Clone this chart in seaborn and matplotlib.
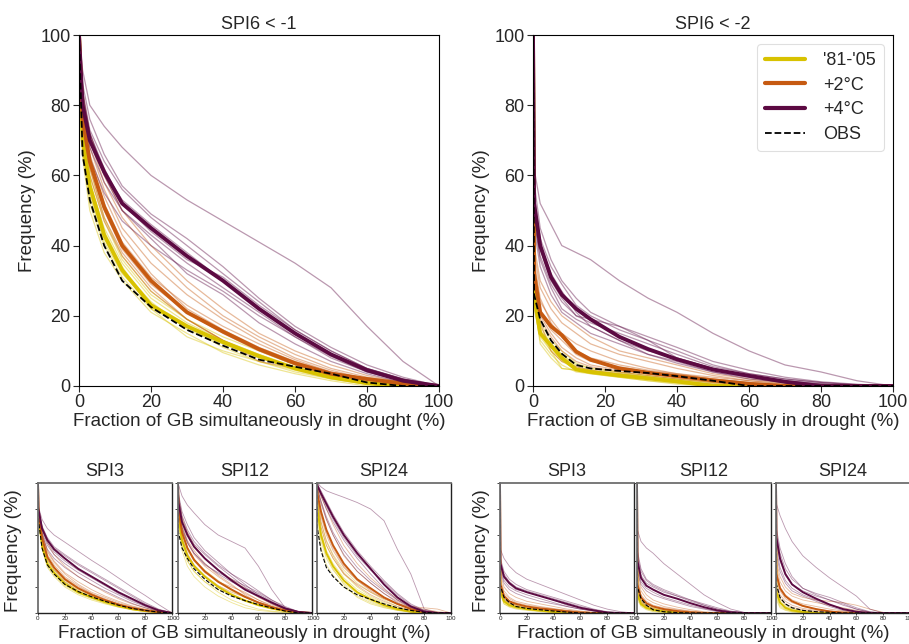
import matplotlib
matplotlib.use("Agg")
import matplotlib.pyplot as plt
from matplotlib.lines import Line2D
import pandas as pd
import seaborn as sns

sns.set_style("ticks")
plt.rcParams['font.family'] = ['Liberation Sans', 'DejaVu Sans']

SCENARIOS = ["'81-'05", "+2°C", "+4°C"]
OBS_LABEL = "OBS"
COLORS = {"'81-'05": "#d8c200", "+2°C": "#c65a11", "+4°C": "#5c0a42"}
TOP_TITLES = ["SPI6 < -1", "SPI6 < -2"]
SMALL_TITLES = ["SPI3", "SPI12", "SPI24"]
TICKS = [0, 20, 40, 60, 80, 100]
XLABEL = "Fraction of GB simultaneously in drought (%)"
YLABEL = "Frequency (%)"

# ---------------- SPI6 < -1 ----------------
X_A = [0, 1, 3, 7, 12, 20, 30, 40, 50, 60, 70, 80, 90, 100]
A_MEAN_BASE = [100, 70, 57, 43, 33, 23, 17, 12.5, 8.5, 5, 2.5, 0.8, 0, 0]
A_MEAN_2C = [100, 76, 64, 51, 40, 30, 21, 15.5, 10.5, 6.5, 3.5, 2, 0.7, 0]
A_MEAN_4C = [100, 80, 70, 61, 52, 45, 37, 30, 22, 15, 9, 4.5, 1.5, 0]
A_OBS = [100, 66, 53, 40, 30, 22.5, 16, 11.5, 7.5, 5.5, 3.5, 1, 0, 0]
A_MEM_BASE = [
    [100, 68, 52, 40, 31, 22, 17, 11, 7, 4, 2, 0.5, 0, 0],
    [100, 72, 58, 45, 35, 25, 18, 13, 9, 5, 2.5, 1, 0, 0],
    [100, 65, 50, 38, 30, 21, 15, 9.5, 6, 3.5, 1.5, 0, 0, 0],
    [100, 74, 60, 47, 36, 26, 19, 14, 10, 6, 3, 1.2, 0.3, 0],
    [100, 70, 55, 42, 33, 24, 16, 12, 8, 5, 2.5, 0.8, 0, 0],
    [100, 71, 57, 44, 34, 22, 14, 10, 7, 4.5, 2, 0.5, 0, 0],
    [100, 76, 62, 48, 37, 27, 19, 13, 9, 5.5, 3, 1.5, 0.5, 0],
    [100, 67, 54, 41, 32, 23.5, 17.5, 12.5, 8.5, 5, 2.5, 1, 0, 0],
]
A_MEM_2C = [
    [100, 78, 66, 54, 43, 32, 22, 16, 11, 7, 4, 2, 0.5, 0],
    [100, 74, 62, 48, 38, 28, 19, 13, 8.5, 5, 2.5, 1, 0, 0],
    [100, 82, 70, 58, 48, 38, 28, 20, 14, 9, 5, 2.5, 1, 0],
    [100, 76, 63, 50, 39, 29, 21, 15, 10, 6, 3, 1.5, 0.5, 0],
    [100, 80, 68, 56, 45, 35, 26, 19, 13, 8, 4.5, 2, 0.8, 0],
    [100, 73, 60, 47, 37, 27, 19, 13, 7, 5, 2.5, 1, 0.3, 0],
    [100, 84, 72, 60, 50, 40, 30, 22, 15, 10, 6, 3, 1, 0],
    [100, 77, 65, 52, 41, 31, 23, 17, 12, 7.5, 4, 2, 0.6, 0],
]
A_MEM_4C = [
    [100, 90, 80, 74, 68, 60, 53, 47, 41, 35, 28, 17, 7, 0],
    [100, 84, 73, 64, 56, 48, 40, 32, 24, 16, 10, 5, 2, 0],
    [100, 78, 68, 58, 50, 43, 35, 28, 21, 14, 8, 4, 1.5, 0],
    [100, 82, 72, 62, 52, 44, 36, 31, 23, 16, 10, 5, 2, 0],
    [100, 76, 65, 55, 47, 40, 33, 27, 20, 14, 8.5, 4, 1.5, 0],
    [100, 86, 76, 66, 57, 49, 42, 34, 25, 17, 11, 6, 2.5, 0],
    [100, 80, 70, 60, 50, 42, 32, 26, 18, 12, 7, 3.5, 1, 0],
    [100, 83, 72, 61, 53, 46, 38, 30, 22, 15, 9, 5, 2, 0],
]

# ---------------- SPI6 < -2 ----------------
X_B = [0, 0.3, 2, 5, 8, 12, 16, 24, 32, 40, 50, 60, 70, 80, 90, 100]
B_MEAN_BASE = [100, 26, 15, 11.5, 8, 4.7, 4, 3, 2.2, 1.3, 0, 0, 0, 0, 0, 0]
B_MEAN_2C = [100, 32, 21, 17, 14.5, 9.8, 7.5, 5, 3.8, 2.8, 1.6, 0.6, 0, 0, 0, 0]
B_MEAN_4C = [100, 52, 40, 31, 26, 22, 19, 14, 10.5, 7.6, 4.7, 2.9, 1.2, 0, 0, 0]
B_OBS = [100, 26, 19, 13, 9.2, 6, 5, 4.3, 3.7, 2.8, 1.5, 0, 0, 0, 0, 0]
B_MEM_BASE = [
    [100, 24, 12, 8, 5, 4.5, 4, 3, 2, 1, 0, 0, 0, 0, 0, 0],
    [100, 28, 17, 12, 9, 6, 5, 4, 3, 2, 1, 0, 0, 0, 0, 0],
    [100, 22, 14, 10, 5, 4.5, 3.5, 2.5, 1.5, 0.5, 0, 0, 0, 0, 0, 0],
    [100, 27, 16, 12, 9, 5.5, 4.5, 3.5, 2.5, 1.7, 0.5, 0, 0, 0, 0, 0],
    [100, 25, 15, 11, 7.5, 5, 4, 3, 2, 1, 0.2, 0, 0, 0, 0, 0],
    [100, 23, 13, 9, 6, 4, 3.5, 2.5, 1.5, 0.8, 0, 0, 0, 0, 0, 0],
    [100, 30, 18, 13, 10, 6.5, 5, 3.8, 2.8, 2, 0.8, 0.2, 0, 0, 0, 0],
    [100, 26, 15, 10, 7, 5, 4.2, 3.2, 2.3, 1.4, 0.4, 0, 0, 0, 0, 0],
]
B_MEM_2C = [
    [100, 38, 28, 22, 18, 15, 12, 9, 7, 5, 3, 1.5, 0.5, 0, 0, 0],
    [100, 28, 18, 10, 7, 5.5, 4.5, 3.5, 2.5, 1.5, 0.5, 0, 0, 0, 0, 0],
    [100, 34, 24, 19, 15, 12, 10, 7, 5, 3.5, 2, 1, 0.3, 0, 0, 0],
    [100, 30, 20, 15, 11, 8, 6, 4.5, 3.5, 2.5, 1.5, 0.5, 0, 0, 0, 0],
    [100, 40, 30, 24, 20, 17, 14, 10, 8, 6, 3.5, 2, 1, 0.4, 0.1, 0],
    [100, 31, 21, 16, 13, 9, 7, 5.5, 4, 3, 2, 1, 0.3, 0, 0, 0],
    [100, 36, 25, 18, 14, 10, 8, 6, 4.5, 3.5, 2.5, 1.5, 0.8, 0.2, 0, 0],
    [100, 29, 19, 14, 10, 7, 5.5, 4, 3, 2, 1, 0.3, 0, 0, 0, 0],
]
B_MEM_4C = [
    [100, 62, 52, 46, 40, 38, 36, 30, 25, 21, 15, 10, 6, 4, 1.5, 0],
    [100, 55, 42, 34, 29, 23, 20, 16, 13, 10, 6, 3.5, 2, 1, 0.4, 0],
    [100, 48, 36, 28, 22, 19, 17, 13, 9, 6.5, 4, 2, 1, 0.3, 0, 0],
    [100, 50, 39, 30, 25, 20, 18, 15, 12, 9, 5.5, 3.5, 2, 1, 0.3, 0],
    [100, 45, 34, 26, 21, 18, 15, 12, 9, 7, 4, 2.5, 1, 0.5, 0, 0],
    [100, 58, 45, 36, 30, 25, 21, 17, 14, 11, 7, 4.5, 2.5, 1.2, 0.5, 0],
    [100, 47, 37, 29, 24, 20, 19, 17, 13, 8, 5, 3, 1.5, 0.5, 0.1, 0],
    [100, 52, 40, 32, 27, 21, 17, 13, 10, 8, 5, 3, 1.5, 0.7, 0.2, 0],
]

# ---------------- small panels (shared x grid) ----------------
X_S = [0, 0.3, 3, 7, 12, 20, 30, 40, 50, 60, 70, 80, 90, 100]

# SPI3 < -1
C3_MEAN_BASE = [100, 75, 52, 38, 31, 22.5, 16, 12, 8.5, 5.5, 3, 1.5, 0.5, 0]
C3_MEAN_2C = [100, 78, 58, 43, 35, 26, 19, 14, 10, 6.5, 4, 2, 0.7, 0]
C3_MEAN_4C = [100, 80, 65, 56, 49, 42, 34, 28, 22, 16, 11, 6, 2, 0]
C3_OBS = [100, 72, 50, 37, 30, 22, 16.5, 12.5, 9, 6, 3.5, 2, 0.7, 0]
C3_MEM_BASE = [
    [100, 74, 50, 36, 29, 21, 15, 11, 7.5, 4.5, 2.5, 1, 0.3, 0],
    [100, 76, 54, 40, 33, 24, 17, 13, 9, 6, 3.5, 2, 0.7, 0],
    [100, 73, 49, 35, 28, 20, 14, 10, 7, 4.5, 2.5, 1.2, 0.3, 0],
    [100, 77, 55, 41, 34, 25, 18, 13.5, 9.5, 6.5, 4, 2, 0.7, 0],
    [100, 75, 52, 38, 30, 22, 15.5, 11.5, 8, 5, 3, 1.5, 0.4, 0],
    [100, 74, 51, 37, 31, 23, 17, 12.5, 8.5, 5.5, 3, 1.5, 0.5, 0],
]
C3_MEM_2C = [
    [100, 80, 62, 48, 40, 31, 24, 18, 13, 9, 5.5, 3, 1, 0],
    [100, 76, 56, 41, 33, 24, 17, 12, 8.5, 5.5, 3, 1.5, 0.5, 0],
    [100, 82, 66, 54, 45, 36, 28, 22, 16, 11, 7, 4, 1.5, 0],
    [100, 78, 59, 45, 37, 28, 21, 15, 11, 7, 4, 2, 0.7, 0],
    [100, 77, 57, 43, 35, 27, 20, 15, 10, 7, 4, 2.5, 1, 0],
    [100, 79, 61, 47, 39, 30, 22, 16, 12, 8, 5, 2.5, 0.8, 0],
]
C3_MEM_4C = [
    [100, 82, 72, 65, 60, 54.5, 47.5, 40.5, 34, 27, 20, 13.5, 6.5, 0],
    [100, 80, 66, 57, 50, 44, 37, 31, 25, 19, 13, 7, 2.5, 0],
    [100, 78, 62, 52, 45, 38, 31, 25, 19, 14, 9, 5, 1.5, 0],
    [100, 81, 67, 58, 51, 45, 38, 32, 26, 20, 14, 8, 3, 0],
    [100, 76, 60, 49, 42, 35, 28, 22, 17, 12, 7.5, 4, 1, 0],
    [100, 79, 64, 54, 47, 40, 33, 27, 21, 15, 10, 5.5, 2, 0],
]

# SPI12 < -1
C12_MEAN_BASE = [100, 75, 56, 44, 36, 28, 20, 14, 9.5, 6, 3.5, 1.5, 0.3, 0]
C12_MEAN_2C = [100, 80, 62, 50, 41, 32, 24, 18, 12.5, 8, 4.5, 2, 0.5, 0]
C12_MEAN_4C = [100, 85, 70, 60, 51, 42, 33, 25, 18, 13, 8, 3.5, 0.8, 0]
C12_OBS = [100, 62, 50, 42, 34, 26, 18, 13, 9.5, 6.5, 3.8, 1.5, 0, 0]
C12_MEM_BASE = [
    [100, 70, 52, 40, 32, 24, 16, 10, 6, 3, 1.5, 0.5, 0, 0],
    [100, 80, 62, 50, 41, 32, 24, 17, 12, 7.5, 4, 1.5, 0.3, 0],
    [100, 72, 52, 40, 32, 24, 18, 14, 10, 6.5, 3.5, 1.2, 0.2, 0],
    [100, 78, 60, 48, 40, 33, 25, 18, 12, 8, 5, 2, 0.5, 0],
    [100, 68, 48, 36, 28, 20, 13, 8, 4, 2, 1, 0.2, 0, 0],
    [100, 76, 57, 45, 37, 29, 21, 15, 10, 6, 3, 1, 0.2, 0],
]
C12_MEM_2C = [
    [100, 84, 66, 54, 45, 36, 28, 21, 15, 10, 6, 3, 1, 0],
    [100, 78, 58, 46, 37, 28, 20, 14, 10, 6.5, 3.5, 1.5, 0.3, 0],
    [100, 90, 74, 62, 52, 42, 33, 26, 19, 12, 7, 3, 0.5, 0],
    [100, 76, 56, 44, 36, 28, 21, 16, 12, 8.5, 5, 2.5, 0.8, 0],
    [100, 82, 64, 50, 40, 31, 24, 20, 16, 10, 5, 1.5, 0.3, 0],
    [100, 86, 68, 56, 48, 38, 29, 22, 14, 8, 4, 1.5, 0.5, 0],
]
C12_MEM_4C = [
    [100, 99, 90, 83, 77, 68, 60, 55, 50, 36, 18, 4, 0.5, 0],
    [100, 90, 75, 64, 55, 46, 37, 30, 24, 17, 10, 4, 1, 0],
    [100, 82, 66, 55, 46, 38, 30, 24, 19, 15, 9, 3, 0.5, 0],
    [100, 88, 72, 62, 53, 45, 36, 28, 20, 13, 7, 3, 0.5, 0],
    [100, 80, 64, 54, 46, 37, 31, 26, 21, 16, 10, 5, 1, 0],
    [100, 92, 78, 68, 58, 48, 39, 30, 22, 14, 8, 3.5, 1, 0],
]

# SPI24 < -1
C24_MEAN_BASE = [100, 80, 60, 46, 36, 25, 16, 10.5, 6, 3, 1, 0, 0, 0]
C24_MEAN_2C = [100, 92, 78, 64, 52, 38, 26, 19, 12, 7, 3, 0.5, 0, 0]
C24_MEAN_4C = [100, 98, 92, 84, 74, 60, 46, 34, 22, 12, 5, 1, 0, 0]
C24_OBS = [100, 65, 48, 35, 28, 20, 14, 10.5, 7, 4, 2, 0.5, 0, 0]
C24_MEM_BASE = [
    [100, 75, 55, 42, 33, 23, 15, 9, 5, 2.5, 1, 0, 0, 0],
    [100, 85, 66, 52, 42, 30, 20, 13, 8, 4, 1.5, 0.3, 0, 0],
    [100, 70, 50, 37, 29, 20, 13, 8, 4.5, 2, 0.5, 0, 0, 0],
    [100, 88, 70, 56, 45, 33, 23, 16, 10, 5, 2, 0.5, 0, 0],
    [100, 78, 58, 44, 34, 22, 12, 7, 4, 2, 0.8, 0, 0, 0],
    [100, 82, 62, 48, 38, 27, 18, 12, 7, 3.5, 1.5, 0.5, 0, 0],
]
C24_MEM_2C = [
    [100, 96, 86, 72, 60, 44, 32, 23, 15, 9, 4, 1, 0, 0],
    [100, 88, 70, 55, 44, 31, 21, 14, 9, 5, 2, 0.5, 0, 0],
    [100, 97, 90, 80, 68, 52, 38, 27, 18, 11, 5, 1.5, 0, 0],
    [100, 85, 66, 52, 42, 30, 22, 16, 11, 7, 5, 4, 3, 0],
    [100, 92, 76, 62, 50, 36, 25, 18, 12, 7, 3, 1, 0, 0],
    [100, 90, 74, 60, 48, 35, 25, 17, 11, 6.5, 4, 3, 1, 0],
]
C24_MEM_4C = [
    [100, 100, 97, 94, 92, 89, 85, 80, 71, 49, 30, 3, 0, 0],
    [100, 98, 90, 80, 70, 56, 42, 30, 19, 10, 4, 1, 0, 0],
    [100, 96, 86, 74, 62, 48, 35, 25, 17, 10, 5, 1.5, 0, 0],
    [100, 99, 94, 86, 76, 62, 48, 36, 25, 15, 7, 2, 0, 0],
    [100, 95, 84, 72, 60, 45, 32, 23, 15, 8, 3, 0.5, 0, 0],
    [100, 98, 92, 82, 72, 58, 44, 33, 24, 14, 6, 2, 0.5, 0],
]

# SPI3 < -2
D3_MEAN_BASE = [100, 17, 9, 6, 4.5, 3, 1.8, 0.8, 0.3, 0, 0, 0, 0, 0]
D3_MEAN_2C = [100, 22, 13, 9, 7, 5, 3.5, 2.5, 1.2, 0.3, 0, 0, 0, 0]
D3_MEAN_4C = [100, 38, 28, 23, 19, 16, 13, 10, 7, 4, 2, 0.3, 0, 0]
D3_OBS = [100, 21, 12, 8, 5, 3.5, 2.5, 1.5, 0.7, 0, 0, 0, 0, 0]
D3_MEM_BASE = [
    [100, 15, 7, 5, 3.5, 2.5, 1.5, 0.5, 0, 0, 0, 0, 0, 0],
    [100, 19, 11, 7, 5.5, 4, 2.5, 1.5, 0.5, 0, 0, 0, 0, 0],
    [100, 14, 7, 4.5, 3, 2, 1, 0.3, 0, 0, 0, 0, 0, 0],
    [100, 18, 10, 7, 5, 3.5, 2.2, 1.2, 0.4, 0, 0, 0, 0, 0],
    [100, 16, 8, 5.5, 4, 3, 2, 1, 0.2, 0, 0, 0, 0, 0],
    [100, 20, 12, 8, 6, 4, 2.8, 1.8, 0.8, 0.2, 0, 0, 0, 0],
]
D3_MEM_2C = [
    [100, 26, 17, 12, 9, 7, 5, 3.5, 2, 1, 0.3, 0, 0, 0],
    [100, 19, 10, 7, 5, 3.5, 2.5, 1.5, 0.5, 0, 0, 0, 0, 0],
    [100, 30, 20, 15, 12, 9, 7, 5, 3, 1.5, 0.5, 0, 0, 0],
    [100, 22, 13, 9, 7, 5, 3.5, 2.5, 1.5, 0.5, 0, 0, 0, 0],
    [100, 24, 15, 11, 8, 6, 4.5, 3, 2, 1, 0.3, 0, 0, 0],
    [100, 20, 11, 8, 6, 4, 3, 2, 1, 0.3, 0, 0, 0, 0],
]
D3_MEM_4C = [
    [100, 49, 42, 36, 31, 26, 22, 18, 14, 10, 6, 3, 1, 0],
    [100, 42, 32, 26, 22, 18, 15, 12, 9, 6, 3, 1, 0.2, 0],
    [100, 34, 25, 20, 17, 14, 11, 8, 5, 3, 1.5, 0.3, 0, 0],
    [100, 40, 30, 24, 20, 17, 14, 11, 8, 5, 2.5, 0.8, 0, 0],
    [100, 32, 23, 18, 15, 12, 9, 7, 5, 3, 1.5, 0.5, 0, 0],
    [100, 36, 27, 22, 18, 16, 13, 10, 6, 4, 2, 0.5, 0, 0],
]

# SPI12 < -2
D12_MEAN_BASE = [100, 14, 7, 4, 2.5, 1.2, 0.4, 0, 0, 0, 0, 0, 0, 0]
D12_MEAN_2C = [100, 22, 12, 7.5, 5, 3, 1.5, 0.5, 0, 0, 0, 0, 0, 0]
D12_MEAN_4C = [100, 40, 27, 21, 18, 14, 11, 7.5, 4.5, 2, 0.5, 0, 0, 0]
D12_OBS = [100, 20, 11, 6, 2.5, 1, 0.3, 0, 0, 0, 0, 0, 0, 0]
D12_MEM_BASE = [
    [100, 12, 6, 3, 1.5, 0.5, 0, 0, 0, 0, 0, 0, 0, 0],
    [100, 17, 9, 5.5, 3.5, 2, 1, 0.3, 0, 0, 0, 0, 0, 0],
    [100, 10, 5, 2.5, 1, 0.3, 0, 0, 0, 0, 0, 0, 0, 0],
    [100, 15, 8, 5, 3, 1.5, 0.5, 0, 0, 0, 0, 0, 0, 0],
    [100, 13, 6, 3.5, 2, 0.8, 0.2, 0, 0, 0, 0, 0, 0, 0],
    [100, 18, 10, 6, 4, 2.5, 1.2, 0.4, 0, 0, 0, 0, 0, 0],
]
D12_MEM_2C = [
    [100, 28, 17, 11, 8, 5, 3, 1.5, 0.5, 0, 0, 0, 0, 0],
    [100, 18, 9, 5.5, 3.5, 2, 1, 0.3, 0, 0, 0, 0, 0, 0],
    [100, 32, 20, 14, 10, 7, 4.5, 2.5, 1, 0.3, 0, 0, 0, 0],
    [100, 20, 11, 7, 5, 3, 1.5, 0.5, 0, 0, 0, 0, 0, 0],
    [100, 25, 14, 9, 6, 4, 2.5, 1.2, 0.4, 0, 0, 0, 0, 0],
    [100, 16, 8, 5, 3, 1.5, 0.5, 0, 0, 0, 0, 0, 0, 0],
]
D12_MEM_4C = [
    [100, 64, 55, 50, 46, 38, 30, 22, 14, 8, 3, 0.5, 0, 0],
    [100, 45, 32, 25, 21, 17, 13, 9, 6, 3, 1, 0.2, 0, 0],
    [100, 35, 24, 19, 16, 12, 9, 6, 3.5, 1.5, 0.3, 0, 0, 0],
    [100, 42, 29, 23, 20, 16, 13, 10, 7, 4, 1.5, 0.3, 0, 0],
    [100, 32, 22, 17, 14, 11, 8, 5, 3, 1, 0.2, 0, 0, 0],
    [100, 48, 34, 26, 22, 18, 14, 10, 6, 3, 1, 0.3, 0, 0],
]

# SPI24 < -2
D24_MEAN_BASE = [100, 16, 8, 4, 2, 0.8, 0, 0, 0, 0, 0, 0, 0, 0]
D24_MEAN_2C = [100, 30, 19, 13, 9, 5.5, 3, 1.2, 0.3, 0, 0, 0, 0, 0]
D24_MEAN_4C = [100, 58, 42, 30, 22, 16, 11, 6.5, 3, 1, 0, 0, 0, 0]
D24_OBS = [100, 22, 12, 7, 4, 2, 1, 0.5, 0, 0, 0, 0, 0, 0]
D24_MEM_BASE = [
    [100, 12, 5, 2.5, 1, 0.3, 0, 0, 0, 0, 0, 0, 0, 0],
    [100, 20, 11, 6, 3.5, 1.5, 0.5, 0, 0, 0, 0, 0, 0, 0],
    [100, 10, 4, 2, 0.8, 0, 0, 0, 0, 0, 0, 0, 0, 0],
    [100, 18, 9, 5, 3, 1.2, 0.3, 0, 0, 0, 0, 0, 0, 0],
    [100, 14, 6, 3, 1.5, 0.5, 0, 0, 0, 0, 0, 0, 0, 0],
    [100, 16, 8, 4.5, 2.5, 1, 0.2, 0, 0, 0, 0, 0, 0, 0],
]
D24_MEM_2C = [
    [100, 36, 24, 17, 13, 10, 8, 6, 4, 2, 0.5, 0, 0, 0],
    [100, 24, 14, 9, 6, 3.5, 2, 0.8, 0, 0, 0, 0, 0, 0],
    [100, 40, 28, 20, 15, 12, 10, 9, 8, 6, 3, 0.5, 0, 0],
    [100, 28, 17, 11, 8, 5, 3, 1.5, 0.5, 0, 0, 0, 0, 0],
    [100, 32, 20, 14, 10, 7, 5, 3, 1.5, 0.5, 0, 0, 0, 0],
    [100, 20, 11, 7, 4.5, 2.5, 1.2, 0.4, 0, 0, 0, 0, 0, 0],
]
D24_MEM_4C = [
    [100, 84, 75, 65, 55, 44, 35, 27, 20, 13, 3, 0, 0, 0],
    [100, 62, 46, 34, 26, 19, 14, 10, 6, 3, 0.5, 0, 0, 0],
    [100, 50, 35, 25, 19, 14, 10, 6, 3, 0.8, 0, 0, 0, 0],
    [100, 65, 50, 38, 28, 19, 15, 12, 8, 4, 1, 0, 0, 0],
    [100, 45, 32, 23, 17, 13, 9, 5, 2, 0.5, 0, 0, 0, 0],
    [100, 55, 40, 29, 22, 17, 13, 10, 7, 3, 0.8, 0, 0, 0],
]


def long_table(x, groups):
    rows = []
    for scen, members in zip(SCENARIOS, groups):
        for i, ys in enumerate(members):
            for xv, yv in zip(x, ys):
                rows.append({"x": xv, "y": yv, "scenario": scen, "member": i})
    return pd.DataFrame(rows)


def mean_table(x, means):
    rows = []
    for scen, ys in zip(SCENARIOS, means):
        for xv, yv in zip(x, ys):
            rows.append({"x": xv, "y": yv, "scenario": scen})
    return pd.DataFrame(rows)


def draw(ax, x, members, means, obs, lw_mean, lw_mem, lw_obs):
    mem = long_table(x, members)
    for scen in SCENARIOS:
        sns.lineplot(data=mem[mem.scenario == scen], x="x", y="y", units="member",
                     estimator=None, sort=False, color=COLORS[scen], lw=lw_mem,
                     alpha=0.42, ax=ax, legend=False)
    mn = mean_table(x, means)
    sns.lineplot(data=mn, x="x", y="y", hue="scenario", hue_order=SCENARIOS,
                 palette=COLORS, estimator=None, sort=False, lw=lw_mean, ax=ax,
                 legend=False)
    sns.lineplot(x=x, y=obs, color="black", ls="--", lw=lw_obs, estimator=None,
                 sort=False, ax=ax)
    ax.set_xlim(0, 100)
    ax.set_ylim(0, 100)
    ax.set_xticks(TICKS)
    ax.set_yticks(TICKS)


W, H = 909, 644
fig = plt.figure(figsize=(W / 100, H / 100), dpi=100)


def add_axes(left, top, width, height):
    return fig.add_axes([left / W, 1 - (top + height) / H, width / W, height / H])


# ---- top panels ----
top_specs = [
    (79, X_A, [A_MEM_BASE, A_MEM_2C, A_MEM_4C], [A_MEAN_BASE, A_MEAN_2C, A_MEAN_4C], A_OBS),
    (533, X_B, [B_MEM_BASE, B_MEM_2C, B_MEM_4C], [B_MEAN_BASE, B_MEAN_2C, B_MEAN_4C], B_OBS),
]
top_axes = []
for (left, x, mems, means, obs), title in zip(top_specs, TOP_TITLES):
    ax = add_axes(left, 35, 360, 351)
    draw(ax, x, mems, means, obs, lw_mean=2.8, lw_mem=0.9, lw_obs=1.3)
    ax.set_title(title, fontsize=13, pad=4)
    ax.set_xlabel(XLABEL, fontsize=13.5, labelpad=1)
    ax.set_ylabel(YLABEL, fontsize=13.5, labelpad=3)
    ax.tick_params(labelsize=13, length=4, width=0.8, pad=2)
    for s in ax.spines.values():
        s.set_linewidth(0.8)
        s.set_color("black")
    top_axes.append(ax)

handles = [Line2D([], [], color=COLORS[s], lw=3) for s in SCENARIOS]
handles.append(Line2D([], [], color="black", ls="--", lw=1.3))
leg = top_axes[1].legend(handles, SCENARIOS + [OBS_LABEL], loc="upper right",
                         fontsize=13, handlelength=2.2, handletextpad=1.0,
                         borderpad=0.45, labelspacing=0.42, frameon=True,
                         fancybox=True, borderaxespad=0.5)
leg.get_frame().set_edgecolor("#d8d8d8")
leg.get_frame().set_linewidth(0.8)

# ---- small panels ----
small_groups = [
    ([38, 178, 317], [
        ([C3_MEM_BASE, C3_MEM_2C, C3_MEM_4C], [C3_MEAN_BASE, C3_MEAN_2C, C3_MEAN_4C], C3_OBS),
        ([C12_MEM_BASE, C12_MEM_2C, C12_MEM_4C], [C12_MEAN_BASE, C12_MEAN_2C, C12_MEAN_4C], C12_OBS),
        ([C24_MEM_BASE, C24_MEM_2C, C24_MEM_4C], [C24_MEAN_BASE, C24_MEAN_2C, C24_MEAN_4C], C24_OBS),
    ], 244, 14),
    ([500, 637, 776], [
        ([D3_MEM_BASE, D3_MEM_2C, D3_MEM_4C], [D3_MEAN_BASE, D3_MEAN_2C, D3_MEAN_4C], D3_OBS),
        ([D12_MEM_BASE, D12_MEM_2C, D12_MEM_4C], [D12_MEAN_BASE, D12_MEAN_2C, D12_MEAN_4C], D12_OBS),
        ([D24_MEM_BASE, D24_MEM_2C, D24_MEM_4C], [D24_MEAN_BASE, D24_MEAN_2C, D24_MEAN_4C], D24_OBS),
    ], 703, 482),
]
for lefts, panels, xl_center, yl_x in small_groups:
    for left, (mems, means, obs), title in zip(lefts, panels, SMALL_TITLES):
        ax = add_axes(left, 483, 134, 130)
        draw(ax, X_S, mems, means, obs, lw_mean=1.4, lw_mem=0.6, lw_obs=0.8)
        ax.set_title(title, fontsize=13, pad=5)
        ax.set_xlabel("")
        ax.set_ylabel("")
        ax.set_yticklabels([])
        ax.tick_params(axis="x", labelsize=4.5, length=1.5, width=0.6, pad=1)
        ax.tick_params(axis="y", length=2, width=0.6)
        for name, s in ax.spines.items():
            s.set_linewidth(1.3 if name in ("left", "top") else 1.0)
            s.set_color("#6e6e6e" if name in ("left", "top") else "#222222")
    fig.text(xl_center / W, 1 - 634 / H, XLABEL, ha="center", va="center", fontsize=13.5)
    fig.text(yl_x / W, 1 - 551 / H, YLABEL, ha="center", va="center", rotation=90, fontsize=13.5)

fig.savefig("out.png", dpi=100)
